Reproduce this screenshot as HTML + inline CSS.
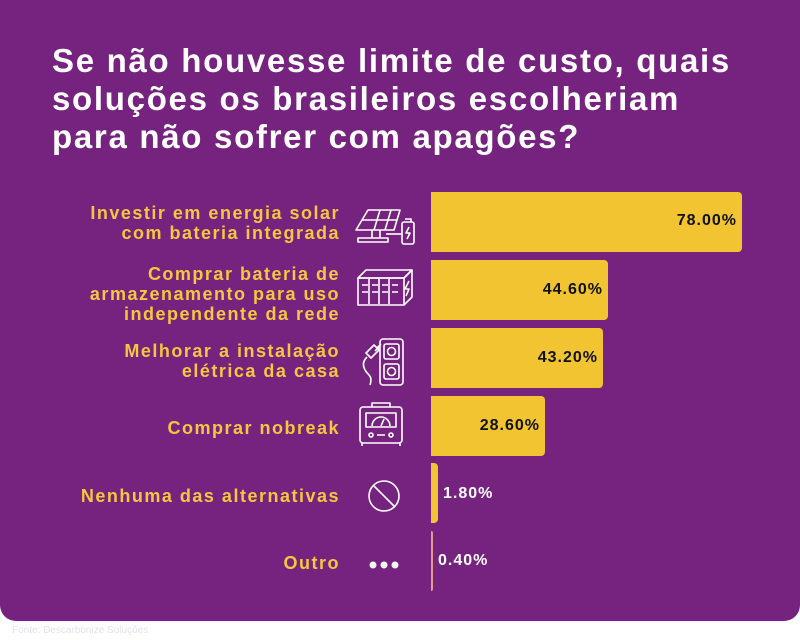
<!DOCTYPE html>
<html><head><meta charset="utf-8"><style>
body{margin:0;width:800px;height:640px;background:#fff;position:relative;overflow:hidden;font-family:"Liberation Sans",sans-serif}
.card{position:absolute;left:0;top:0;width:800px;height:621px;background:#76237f;border-radius:0 0 16px 16px}
.title{position:absolute;left:52px;top:42px;color:#fff;font-weight:bold;font-size:33px;letter-spacing:1.7px;line-height:38px;white-space:nowrap}
.lab{position:absolute;right:460px;color:#f5c640;font-weight:bold;font-size:18px;letter-spacing:1.5px;line-height:20px;text-align:right;white-space:nowrap}
.bar{position:absolute;left:431px;height:60px;background:#f2c432;border-radius:0 4px 4px 0}
.val{position:absolute;font-weight:bold;font-size:16px;letter-spacing:1px;color:#111;white-space:nowrap}
.vr{text-align:right;width:100px}
.vw{color:#fff}
.foot{position:absolute;left:12px;top:625px;font-size:10px;color:#e6e0ea}
svg{position:absolute}
</style></head><body>
<div class="card"></div>
<div class="title">Se não houvesse limite de custo, quais<br>soluções os brasileiros escolheriam<br>para não sofrer com apagões?</div>

<div class="lab" style="top:203px">Investir em energia solar<br>com bateria integrada</div>
<div class="lab" style="top:264px">Comprar bateria de<br>armazenamento para uso<br>independente da rede</div>
<div class="lab" style="top:341px">Melhorar a instalação<br>elétrica da casa</div>
<div class="lab" style="top:418px">Comprar nobreak</div>
<div class="lab" style="top:486px">Nenhuma das alternativas</div>
<div class="lab" style="top:553px">Outro</div>

<div class="bar" style="top:192px;width:311px"></div>
<div class="bar" style="top:260px;width:177px"></div>
<div class="bar" style="top:328px;width:172px"></div>
<div class="bar" style="top:396px;width:114px"></div>
<div class="bar" style="top:463px;width:7px"></div>
<div class="bar" style="top:531px;width:2px;background:#e89a8a"></div>

<div class="val vr" style="left:637px;top:212px">78.00%</div>
<div class="val vr" style="left:503px;top:281px">44.60%</div>
<div class="val vr" style="left:498px;top:349px">43.20%</div>
<div class="val vr" style="left:440px;top:417px">28.60%</div>
<div class="val vw" style="left:443px;top:485px">1.80%</div>
<div class="val vw" style="left:438px;top:552px">0.40%</div>

<svg width="800" height="621" style="left:0;top:0" fill="none" stroke="#fff" stroke-width="1.6" stroke-linejoin="round">
<path d="M368 210 L400 210 L394 230 L356 230 Z"/><path d="M380 210 L374 230 M391 210 L385 230 M362 220 L397 220"/>
<path d="M372 230 V238 M380 230 V238 M358 242 H388 V238 H358 Z"/><path d="M386 234 H402"/>
<rect x="402" y="222" width="12" height="22" rx="2"/><path d="M405 219 h6 v3 M409 227 l-3 6 h4 l-3 6"/>
<path d="M358 278 L366 270 H412 L404 278 Z"/><rect x="358" y="278" width="46" height="27"/><path d="M404 278 L412 270 V297 L404 305"/>
<path d="M362 285h6M362 292h6M372 285h6M372 292h6M382 285h6M382 292h6M392 285h6M392 292h6M369 279v25M379 279v25M389 279v25"/>
<path d="M409 281 l-4 8 h4 l-3 7"/>
<rect x="380" y="339" width="23" height="46" rx="3"/><rect x="384" y="344" width="15" height="15" rx="2"/><rect x="384" y="364" width="15" height="15" rx="2"/>
<circle cx="391.5" cy="351.5" r="4"/><circle cx="391.5" cy="371.5" r="4"/>
<path d="M374 345 l-8 8 l5 5 l8 -8 Z M377 348 l4 -4 M375 351 l4 -4 M367 357 c-6 6 -4 12 2 18 c3 3 2 7 1 10"/>
<rect x="360" y="407" width="42" height="36" rx="3"/><path d="M372 407 v-4 h18 v4"/><rect x="366" y="413" width="30" height="14"/>
<path d="M372 426 a9 9 0 0 1 18 0 M381 426 l3 -7"/><circle cx="371" cy="435" r="2"/><circle cx="391" cy="435" r="2"/><path d="M377 435h8 M362 443v3 M400 443v3"/>
<circle cx="384" cy="496" r="15"/><path d="M374 486 L394 506"/>
</svg>
<svg width="40" height="16" style="left:366px;top:557px"><circle cx="7" cy="8" r="3.5" fill="#fff"/><circle cx="18" cy="8" r="3.5" fill="#fff"/><circle cx="29" cy="8" r="3.5" fill="#fff"/></svg>

<div class="foot">Fonte: Descarbonize Soluções</div>
</body></html>
